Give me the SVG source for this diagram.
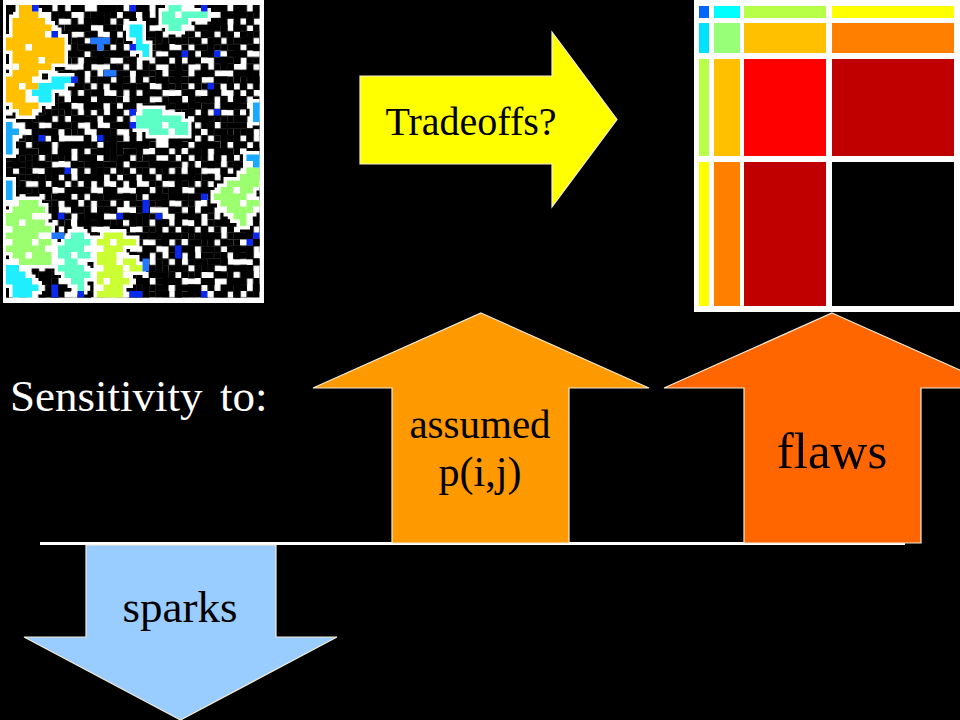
<svg xmlns="http://www.w3.org/2000/svg" width="960" height="720" viewBox="0 0 960 720">
<style>
.lbl{fill:#000;text-anchor:middle;font-family:'Liberation Serif','Times New Roman',serif}
.wt{fill:#fff;font-family:'Liberation Serif','Times New Roman',serif}
.arrow{stroke:#f4ecd8;stroke-width:1.2;stroke-linejoin:miter}
.halo{fill:#fff;stroke:#fff;stroke-width:7;stroke-linejoin:miter}
.bk{fill:#000}
</style>
<defs>
<pattern id="pa" patternUnits="userSpaceOnUse" x="6" y="5" width="32.5" height="45.5">
<path class="bk" d="M0 0h13.5v7h-13.5zM19.5 6.5h13.5v7h-13.5zM13 13h7v7h-7zM0 19.5h13.5v7h-13.5zM19.5 26h7v7h-7zM26 32.5h7v7h-7zM6.5 32.5h7v7h-7zM13 39h7v7h-7z"/>
</pattern>
<pattern id="pb" patternUnits="userSpaceOnUse" x="6" y="5" width="58.5" height="71.5">
<path class="bk" d="M13 0h7v7h-7zM32.5 0h13.5v7h-13.5zM52 0h7v7h-7zM0 6.5h7v7h-7zM19.5 6.5h7v7h-7zM45.5 6.5h7v7h-7zM6.5 13h7v7h-7zM26 13h13.5v7h-13.5zM13 19.5h7v7h-7zM39 19.5h7v7h-7zM52 19.5h7v7h-7zM0 26h7v7h-7zM19.5 26h13.5v7h-13.5zM45.5 26h7v7h-7zM6.5 32.5h7v7h-7zM32.5 32.5h7v7h-7zM52 32.5h7v7h-7zM13 39h13.5v7h-13.5zM39 39h7v7h-7zM0 45.5h7v7h-7zM26 45.5h7v7h-7zM45.5 45.5h13.5v7h-13.5zM6.5 52h7v7h-7zM32.5 52h13.5v7h-13.5zM19.5 58.5h7v7h-7zM45.5 58.5h7v7h-7zM0 65h7v7h-7zM13 65h7v7h-7zM26 65h7v7h-7zM52 65h7v7h-7z"/>
</pattern>
<pattern id="pc" patternUnits="userSpaceOnUse" x="6" y="5" width="45.5" height="39">
<path class="bk" d="M0 6.5h7v13.5h-7zM19.5 0h7v7h-7zM32.5 13h7v13.5h-7zM13 26h7v7h-7zM39 32.5h7v7h-7zM26 32.5h7v7h-7zM6.5 32.5h7v7h-7z"/>
</pattern>
<pattern id="pd" patternUnits="userSpaceOnUse" x="6" y="5" width="71.5" height="58.5">
<path class="bk" d="M26 6.5h7v13.5h-7zM58.5 19.5h13.5v7h-13.5zM6.5 39h13.5v7h-13.5zM39 45.5h7v7h-7zM52 0h7v7h-7zM13 52h7v7h-7z"/>
</pattern>
<path id="orange" d="M19 5h13v6.5h-13zM19 11.5h19.5v6.5h-19.5zM12.5 18h32.5v6.5h-32.5zM12.5 24.5h39v6.5h-39zM12.5 31h45.5v6.5h-45.5zM6 37.5h58.5v13h-58.5zM12.5 50.5h52v13h-52zM12.5 63.5h39v6.5h-39zM12.5 70h26v6.5h-26zM6 76.5h26v6.5h-26zM6 83h32.5v6.5h-32.5zM6 89.5h19.5v6.5h-19.5zM6 96h26v6.5h-26zM12.5 102.5h26v6.5h-26zM19 109h13v6.5h-13z"/>
<path id="cyan" d="M51.5 76.5h19.5v6.5h-19.5zM38.5 83h26v6.5h-26zM32 89.5h19.5v6.5h-19.5zM38.5 96h13v6.5h-13zM129.5 24.5h13v13h-13zM136 37.5h6.5v6.5h-6.5zM136 44h13v6.5h-13zM142.5 50.5h6.5v6.5h-6.5zM6 265h13v6.5h-13zM6 271.5h19.5v6.5h-19.5zM6 278h26v6.5h-26zM12.5 284.5h26v6.5h-26zM12.5 291h19.5v6.5h-19.5z"/>
<path id="aqua" d="M168.5 5h13v6.5h-13zM162 11.5h45.5v6.5h-45.5zM162 18h26v6.5h-26zM168.5 24.5h13v6.5h-13zM142.5 109h19.5v6.5h-19.5zM136 115.5h45.5v6.5h-45.5zM136 122h52v6.5h-52zM149 128.5h19.5v6.5h-19.5zM175 128.5h13v6.5h-13zM71 232.5h13v6.5h-13zM64.5 239h26v6.5h-26zM58 245.5h26v6.5h-26zM58 252h32.5v6.5h-32.5zM64.5 258.5h13v6.5h-13zM58 265h26v6.5h-26zM64.5 271.5h26v6.5h-26zM71 278h13v6.5h-13zM77.5 284.5h6.5v6.5h-6.5z"/>
<path id="ygreen" d="M103.5 232.5h19.5v6.5h-19.5zM97 239h39v6.5h-39zM103.5 245.5h19.5v6.5h-19.5zM97 252h19.5v6.5h-19.5zM97 258.5h39v6.5h-39zM103.5 265h39v6.5h-39zM97 271.5h26v6.5h-26zM97 278h32.5v6.5h-32.5zM103.5 284.5h19.5v6.5h-19.5zM97 291h26v6.5h-26z"/>
<path id="lgreen" d="M246.5 167.5h13v6.5h-13zM240 174h19.5v6.5h-19.5zM227 180.5h32.5v6.5h-32.5zM220.5 187h32.5v6.5h-32.5zM214 193.5h32.5v6.5h-32.5zM220.5 200h39v6.5h-39zM227 206.5h26v6.5h-26zM233.5 213h13v6.5h-13zM240 219.5h6.5v6.5h-6.5zM19 200h19.5v6.5h-19.5zM12.5 206.5h32.5v6.5h-32.5zM6 213h26v6.5h-26zM6 219.5h39v6.5h-39zM12.5 226h39v6.5h-39zM6 232.5h32.5v6.5h-32.5zM12.5 239h39v6.5h-39zM6 245.5h39v6.5h-39zM12.5 252h39v6.5h-39zM19 258.5h32.5v6.5h-32.5z"/>
<path id="lblue" d="M6 122h6.5v32.5h-6.5zM12.5 128.5h6.5v6.5h-6.5zM253 102.5h6.5v19.5h-6.5zM246.5 154.5h13v6.5h-13zM253 161h6.5v6.5h-6.5zM6 180.5h6.5v19.5h-6.5z"/>
<clipPath id="latclip"><rect x="6" y="5" width="253.5" height="292.5"/></clipPath>
</defs>
<rect x="0" y="0" width="960" height="720" fill="#000"/>
<g id="lattice-image">
<rect x="3" y="0" width="261" height="303" fill="#fff"/>
<g clip-path="url(#latclip)">
<rect x="6" y="5" width="254" height="293" fill="url(#pa)"/>
<rect x="6" y="5" width="254" height="293" fill="url(#pb)"/>
<rect x="6" y="5" width="254" height="293" fill="url(#pc)"/>
<rect x="6" y="5" width="254" height="293" fill="url(#pd)"/>
<use href="#orange" class="halo"/>
<use href="#cyan" class="halo"/>
<use href="#aqua" class="halo"/>
<use href="#ygreen" class="halo"/>
<use href="#lgreen" class="halo"/>
<use href="#lblue" class="halo"/>
</g>
<use href="#orange" fill="#ffc000"/>
<use href="#cyan" fill="#1eeeff"/>
<use href="#aqua" fill="#5effc6"/>
<use href="#ygreen" fill="#ccff33"/>
<use href="#lgreen" fill="#9cff70"/>
<use href="#lblue" fill="#18aaff"/>
<path fill="#fff" d="M25.5 44h6.5v6.5h-6.5zM38.5 57h6.5v6.5h-6.5zM19 83h6.5v6.5h-6.5zM45 31h6.5v6.5h-6.5zM25.5 96h6.5v6.5h-6.5zM12.5 63.5h6.5v6.5h-6.5zM110 239h6.5v6.5h-6.5zM116.5 258.5h6.5v6.5h-6.5zM103.5 278h6.5v6.5h-6.5zM123 265h6.5v6.5h-6.5zM233.5 187h6.5v6.5h-6.5zM240 200h6.5v6.5h-6.5zM19 219.5h6.5v6.5h-6.5zM32 239h6.5v6.5h-6.5zM25.5 252h6.5v6.5h-6.5zM175 11.5h6.5v6.5h-6.5zM162 122h6.5v6.5h-6.5zM71 252h6.5v6.5h-6.5z"/>
<path fill="#2277ff" d="M90.5 37.5h19.5v6.5h-19.5zM97 44h6.5v6.5h-6.5zM103.5 70h13v6.5h-13zM142.5 258.5h6.5v13h-6.5zM51.5 232.5h13v6.5h-13z"/>
<path fill="#0a28ee" d="M32 5h6.5v6.5h-6.5zM129.5 5h6.5v6.5h-6.5zM201 5h6.5v6.5h-6.5zM51.5 31h6.5v6.5h-6.5zM129.5 44h6.5v6.5h-6.5zM181.5 50.5h6.5v6.5h-6.5zM214 50.5h6.5v6.5h-6.5zM71 76.5h6.5v6.5h-6.5zM207.5 83h6.5v6.5h-6.5zM129.5 109h6.5v6.5h-6.5zM214 109h6.5v6.5h-6.5zM38.5 135h6.5v6.5h-6.5zM97 135h6.5v6.5h-6.5zM129.5 122h6.5v6.5h-6.5zM64.5 167.5h6.5v6.5h-6.5zM201 193.5h6.5v6.5h-6.5zM253 232.5h6.5v6.5h-6.5zM142.5 200h6.5v13h-6.5zM58 213h6.5v6.5h-6.5zM116.5 213h6.5v6.5h-6.5zM155.5 213h6.5v6.5h-6.5zM246.5 239h6.5v6.5h-6.5zM175 245.5h6.5v13h-6.5zM129.5 291h13v6.5h-13zM201 291h6.5v6.5h-6.5zM77.5 291h6.5v6.5h-6.5zM51.5 284.5h6.5v13h-6.5z"/>
</g>
<g id="treemap-image">
<rect x="694" y="0" width="266" height="312" fill="#fff"/>
<rect x="699" y="6" width="10" height="12" fill="#0066ff"/>
<rect x="714" y="6" width="26" height="12" fill="#00ffff"/>
<rect x="744" y="6" width="82" height="12" fill="#b8ff48"/>
<rect x="832" y="6" width="122" height="12" fill="#ffff00"/>
<rect x="699" y="23" width="10" height="30" fill="#00e0ff"/>
<rect x="714" y="23" width="26" height="30" fill="#98ff78"/>
<rect x="744" y="23" width="82" height="30" fill="#ffc000"/>
<rect x="832" y="23" width="122" height="30" fill="#ff8000"/>
<rect x="699" y="59" width="10" height="97" fill="#b8ff48"/>
<rect x="714" y="59" width="26" height="97" fill="#ffc000"/>
<rect x="744" y="59" width="82" height="97" fill="#ff0000"/>
<rect x="832" y="59" width="122" height="97" fill="#c00000"/>
<rect x="699" y="162" width="10" height="144" fill="#ffff00"/>
<rect x="714" y="162" width="26" height="144" fill="#ff8000"/>
<rect x="744" y="162" width="82" height="144" fill="#c00000"/>
<rect x="832" y="162" width="122" height="144" fill="#000000"/>
</g>
<g id="connectors">
<line x1="40" y1="543.5" x2="905" y2="543.5" stroke="#fff" stroke-width="3"/>
</g>
<g id="tradeoffs-arrow">
<path class="arrow" fill="#ffff00" d="M360 76H552V32L617 119.5L552 207V164H360Z"/>
<text class="lbl" x="471" y="135" font-size="40">Tradeoffs?</text>
</g>
<g id="sensitivity-label">
<text class="wt" x="10" y="411" font-size="45">Sensitivity</text>
<text class="wt" x="220" y="411" font-size="45">to:</text>
</g>
<g id="assumed-arrow">
<path class="arrow" fill="#ff9900" d="M481 313L649 388H569V543H392V388H313Z"/>
<text class="lbl" x="480" y="438" font-size="41">assumed</text>
<text class="lbl" x="480" y="486" font-size="42">p(i,j)</text>
</g>
<g id="flaws-arrow">
<path class="arrow" fill="#ff6600" d="M832 313L1000 388H921V543H744V388H664Z"/>
<text class="lbl" x="832" y="468" font-size="51">flaws</text>
</g>
<g id="sparks-arrow">
<path class="arrow" fill="#99ccff" d="M86 545H276V637H337L180.5 720L24 637H86Z"/>
<text class="lbl" x="180" y="622" font-size="45">sparks</text>
</g>
</svg>
